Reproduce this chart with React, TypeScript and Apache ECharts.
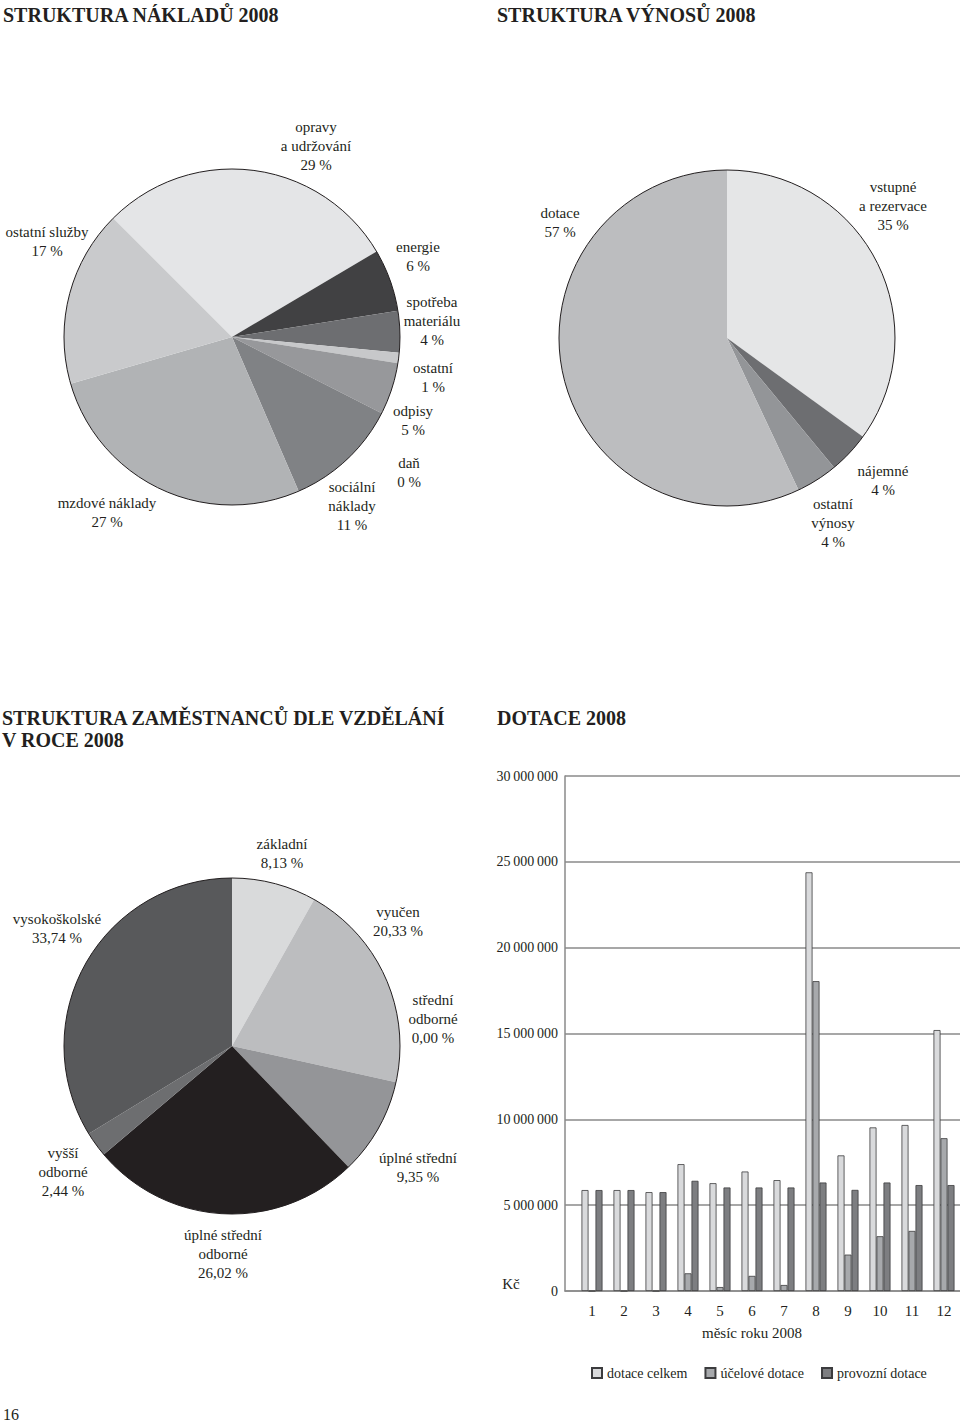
import React, { useEffect, useRef } from "react";
import * as echarts from "echarts";

const FONT = '"Liberation Serif", "Times New Roman", serif';
const INK = "#231f20";
const GRID_GRAY = "#8a8a8a";

// ---- Struktura nákladů 2008 ----
const costNames = [
  "opravy\na udržování",
  "energie",
  "spotřeba\nmateriálu",
  "ostatní",
  "odpisy",
  "daň",
  "sociální\nnáklady",
  "mzdové náklady",
  "ostatní služby",
];
const costValues = [29, 6, 4, 1, 5, 0, 11, 27, 17];
const costColors = ["#e4e5e7", "#414143", "#6d6e71", "#c7c8ca", "#97989b", "#ffffff", "#808285", "#b1b3b5", "#c9cacc"];
const costLabelPos = [
  [316, 146], [418, 256], [432, 321], [433, 377], [413, 420], [409, 472], [352, 506], [107, 512], [47, 241],
];

// ---- Struktura výnosů 2008 ----
const revNames = ["vstupné\na rezervace", "nájemné", "ostatní\nvýnosy", "dotace"];
const revValues = [35, 4, 4, 57];
const revColors = ["#e5e6e7", "#6d6e71", "#939598", "#bcbdbf"];
const revLabelPos = [[893, 206], [883, 480], [833, 523], [560, 222]];

// ---- Struktura zaměstnanců dle vzdělání ----
const eduNames = [
  "základní",
  "vyučen",
  "střední\nodborné",
  "úplné střední",
  "úplné střední\nodborné",
  "vyšší\nodborné",
  "vysokoškolské",
];
const eduValues = [8.13, 20.33, 0.0, 9.35, 26.02, 2.44, 33.74];
const eduColors = ["#d9dadb", "#bcbdbf", "#a0a1a3", "#949598", "#231f20", "#6d6e70", "#58595b"];
const eduLabelPos = [[282, 853], [398, 921], [433, 1019], [418, 1167], [223, 1254], [63, 1172], [57, 928]];

// ---- Dotace 2008 ----
const months = ["1", "2", "3", "4", "5", "6", "7", "8", "9", "10", "11", "12"];
const seriesNames = ["dotace celkem", "účelové dotace", "provozní dotace"];
const totalSubsidy = [5880000, 5880000, 5760000, 7390000, 6280000, 6960000, 6460000, 24390000, 7900000, 9530000, 9670000, 15200000];
const purposeSubsidy = [0, 0, 0, 1030000, 230000, 880000, 350000, 18050000, 2120000, 3190000, 3500000, 8900000];
const operatingSubsidy = [5880000, 5880000, 5760000, 6420000, 6030000, 6030000, 6030000, 6320000, 5890000, 6320000, 6170000, 6170000];
const barColors = ["#d9dadc", "#a7a9ac", "#7d7e81"];
const yTicks = { min: 0, max: 30000000, interval: 5000000 };

function fmtThousands(v: number): string {
  return String(Math.round(v)).replace(/\B(?=(\d{3})+(?!\d))/g, "\u2009");
}

function pieSeries(
  names: string[],
  values: number[],
  colors: string[],
  pos: number[][],
  center: number[],
  startAngle: number,
  decimals: number
) {
  return {
    type: "pie",
    center,
    radius: 168,
    startAngle,
    clockwise: true,
    avoidLabelOverlap: false,
    minShowLabelAngle: 0,
    data: names.map((n, i) => ({ name: n, value: values[i], itemStyle: { color: colors[i] } })),
    itemStyle: { borderWidth: 0 },
    label: {
      show: true,
      position: "outside",
      formatter: (p: any) => `${p.name}\n${Number(p.value).toFixed(decimals).replace(".", ",")} %`,
      fontFamily: FONT,
      fontSize: 15,
      lineHeight: 19,
      color: INK,
      align: "center",
    },
    labelLine: { show: false },
    labelLayout: (p: any) => ({
      x: pos[p.dataIndex][0],
      y: pos[p.dataIndex][1],
      align: "center",
      verticalAlign: "middle",
    }),
    emphasis: { disabled: true },
    silent: true,
  };
}

function outline(center: number[]) {
  return {
    type: "pie",
    center,
    radius: 168,
    silent: true,
    z: 5,
    data: [{ value: 1, name: "" }],
    itemStyle: { color: "rgba(0,0,0,0)", borderColor: INK, borderWidth: 1 },
    label: { show: false },
    labelLine: { show: false },
    emphasis: { disabled: true },
  };
}

function text(x: number, y: number, t: string, font: string, align = "left", vAlign = "middle", lineHeight?: number) {
  return {
    type: "text",
    x,
    y,
    silent: true,
    style: { text: t, font, fill: INK, textAlign: align, textVerticalAlign: vAlign, lineHeight },
  };
}

export default function App() {
  const ref = useRef<HTMLDivElement>(null);
  useEffect(() => {
    if (!ref.current) return;
    const chart = echarts.init(ref.current, null, { renderer: "svg" });
    const titleFont = `bold 20px ${FONT}`;
    const option: any = {
      animation: false,
      backgroundColor: "#ffffff",
      textStyle: { fontFamily: FONT, color: INK },
      graphic: [
        text(3, 15, "STRUKTURA NÁKLADŮ 2008", titleFont),
        text(497, 15, "STRUKTURA VÝNOSŮ 2008", titleFont),
        text(2, 707, "STRUKTURA ZAMĚSTNANCŮ DLE VZDĚLÁNÍ\nV ROCE 2008", titleFont, "left", "top", 22),
        text(497, 718, "DOTACE 2008", titleFont),
        text(511, 1284, "Kč", `15px ${FONT}`, "center"),
        text(752, 1333, "měsíc roku 2008", `15px ${FONT}`, "center"),
        text(3, 1414, "16", `16px ${FONT}`),
      ],
      legend: {
        data: seriesNames,
        left: 591,
        top: 1366,
        padding: 0,
        icon: "rect",
        itemWidth: 10,
        itemHeight: 10,
        itemGap: 17,
        selectedMode: false,
        textStyle: { fontFamily: FONT, fontSize: 14, color: INK },
      },
      grid: [
        { left: 565, top: 776, width: 395, height: 515 },
        { left: 576, top: 776, width: 385, height: 515 },
      ],
      xAxis: [
        {
          gridIndex: 0,
          type: "category",
          data: months,
          axisLine: { show: true, lineStyle: { color: GRID_GRAY, width: 1.5 } },
          axisTick: { show: false },
          axisLabel: { show: false },
          splitLine: { show: false },
        },
        {
          gridIndex: 1,
          type: "category",
          data: months,
          axisLine: { show: false },
          axisTick: { show: false },
          axisLabel: { fontFamily: FONT, fontSize: 15, color: INK, margin: 12 },
          splitLine: { show: false },
        },
      ],
      yAxis: [
        {
          gridIndex: 0,
          type: "value",
          ...yTicks,
          axisLine: { show: true, lineStyle: { color: GRID_GRAY, width: 1.5 } },
          axisTick: { show: false },
          axisLabel: {
            fontFamily: FONT,
            fontSize: 14,
            color: INK,
            margin: 7,
            formatter: (v: number) => fmtThousands(v),
          },
          splitLine: { show: true, lineStyle: { color: GRID_GRAY, width: 1.5 } },
        },
        {
          gridIndex: 1,
          type: "value",
          ...yTicks,
          show: false,
          splitLine: { show: false },
        },
      ],
      series: [
        pieSeries(costNames, costValues, costColors, costLabelPos, [232, 337], 135, 0),
        outline([232, 337]),
        pieSeries(revNames, revValues, revColors, revLabelPos, [727, 338], 90, 0),
        outline([727, 338]),
        pieSeries(eduNames, eduValues, eduColors, eduLabelPos, [232, 1046], 90, 2),
        outline([232, 1046]),
        ...[totalSubsidy, purposeSubsidy, operatingSubsidy].map((d, i) => ({
          type: "bar",
          name: seriesNames[i],
          xAxisIndex: 1,
          yAxisIndex: 1,
          data: d,
          barWidth: 7,
          barGap: "0%",
          itemStyle: { color: barColors[i], borderColor: "#3c3c3e", borderWidth: 0.8 },
          emphasis: { disabled: true },
          silent: true,
        })),
      ],
    };
    chart.setOption(option);
    return () => chart.dispose();
  }, []);
  return (
    <div
      ref={ref}
      style={{ position: "absolute", left: 0, top: 0, width: 960, height: 1426, background: "#fff" }}
    />
  );
}
